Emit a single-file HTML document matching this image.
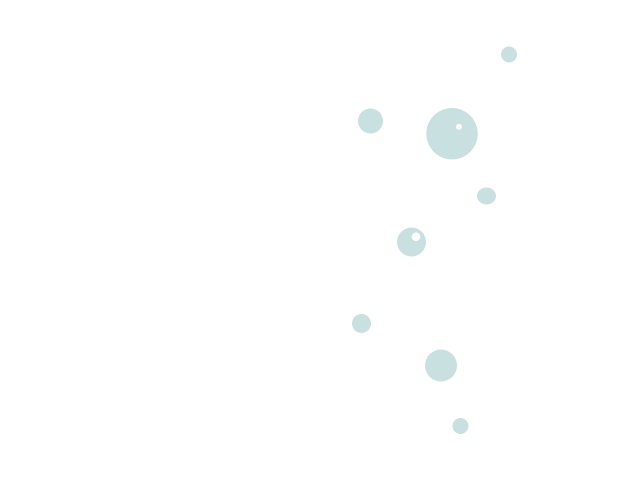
<!DOCTYPE html>
<html><head><style>html,body{margin:0;padding:0;background:#fff;width:621px;height:503px;overflow:hidden}</style></head>
<body>
<svg width="621" height="503" viewBox="0 0 621 503" xmlns="http://www.w3.org/2000/svg">
<g fill="#c8e0e0">
<circle cx="509" cy="54.5" r="8"/>
<circle cx="370.5" cy="121" r="12.5"/>
<circle cx="452" cy="133.7" r="25.7"/>
<ellipse cx="486.5" cy="196" rx="9.5" ry="8.5"/>
<circle cx="411.5" cy="242" r="14.5"/>
<circle cx="361.5" cy="323.5" r="9.5"/>
<circle cx="441" cy="365.5" r="16"/>
<circle cx="460.5" cy="426" r="8"/>
</g>
<g fill="#fff">
<circle cx="459" cy="126.8" r="3"/>
<circle cx="416" cy="236.7" r="4.3"/>
</g>
</svg>
</body></html>
